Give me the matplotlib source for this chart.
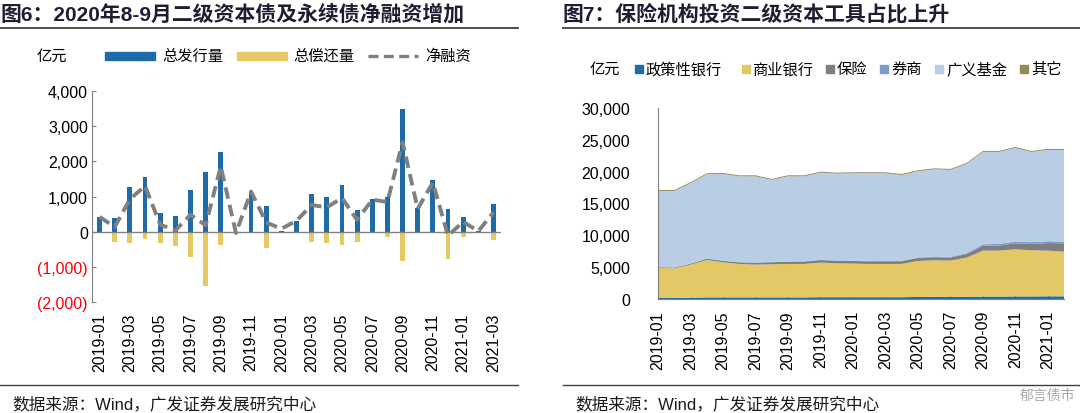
import matplotlib
matplotlib.use("Agg")
import matplotlib.pyplot as plt
import numpy as np
from matplotlib.lines import Line2D
from matplotlib.patches import Rectangle

plt.rcParams['font.family'] = ['Liberation Sans', 'Noto Sans CJK SC', 'DejaVu Sans']

# ---------------- data: left chart ----------------
months_left = ["2019-01", "2019-02", "2019-03", "2019-04", "2019-05", "2019-06", "2019-07",
               "2019-08", "2019-09", "2019-10", "2019-11", "2019-12", "2020-01", "2020-02",
               "2020-03", "2020-04", "2020-05", "2020-06", "2020-07", "2020-08", "2020-09",
               "2020-10", "2020-11", "2020-12", "2021-01", "2021-02", "2021-03"]
issuance = [430, 400, 1260, 1550, 520, 455, 1200, 1700, 2280, 0, 1140, 720, 30, 310,
            1065, 1000, 1340, 620, 940, 990, 3490, 685, 1470, 655, 420, 15, 790]
repayment = [0, -285, -335, -210, -315, -400, -715, -1540, -370, -40, 0, -465, 0, 0,
             -305, -325, -380, -295, -30, -145, -835, -30, -50, -780, -145, 0, -240]
net_financing = [420, 130, 925, 1300, 200, 30, 480, 180, 1860, -40, 1140, 260, 80, 310,
                 760, 690, 960, 330, 910, 845, 2550, 650, 1400, -120, 280, 10, 550]
left_yticks = [-2000, -1000, 0, 1000, 2000, 3000, 4000]

# ---------------- data: right chart ----------------
months_right = ["2019-01", "2019-02", "2019-03", "2019-04", "2019-05", "2019-06", "2019-07",
                "2019-08", "2019-09", "2019-10", "2019-11", "2019-12", "2020-01", "2020-02",
                "2020-03", "2020-04", "2020-05", "2020-06", "2020-07", "2020-08", "2020-09",
                "2020-10", "2020-11", "2020-12", "2021-01", "2021-02"]
policy_bank = [150, 150, 200, 250, 250, 250, 250, 250, 250, 250, 280, 280, 280, 280, 280, 280,
               320, 350, 350, 350, 380, 380, 400, 400, 420, 420]
commercial_bank = [4720, 4670, 5190, 5880, 5510, 5250, 5140, 5200, 5250, 5250, 5430, 5320, 5270,
                   5220, 5220, 5220, 5650, 5720, 5670, 6140, 7210, 7210, 7400, 7240, 7170, 7020]
insurance = [100, 120, 150, 200, 220, 250, 300, 320, 350, 370, 400, 400, 420, 420, 430, 440,
             470, 500, 500, 560, 750, 800, 950, 1000, 1200, 1300]
securities = [30, 30, 30, 40, 40, 40, 50, 50, 50, 50, 60, 60, 60, 60, 60, 60, 80, 100, 100, 150,
              250, 260, 280, 280, 280, 280]
broad_funds = [11970, 12000, 12610, 13220, 13620, 13480, 13530, 12880, 13370, 13350, 13680, 13630,
               13720, 13770, 13760, 13480, 13540, 13700, 13650, 14010, 14510, 14450, 14690, 14180,
               14340, 14390]
others = [150] * 26
right_yticks = [0, 5000, 10000, 15000, 20000, 25000, 30000]

series_names = ["政策性银行", "商业银行", "保险", "券商", "广义基金", "其它"]
series_colors = ["#1F6BA8", "#E4C866", "#7F7F7F", "#7B9DCC", "#B9CDE4", "#948A54"]

BLUE = "#1F6BA8"
YELLOW = "#E6C965"
GRAY = "#808080"
TITLE_C = "#1E1E32"

fig = plt.figure(figsize=(10.8, 4.14), dpi=100)

# ---------------- left chart ----------------
axL = fig.add_axes([0.0852, 0.2688, 0.3787, 0.5082])
x = np.arange(len(months_left))
axL.bar(x, issuance, width=0.32, color=BLUE, zorder=2)
axL.bar(x, repayment, width=0.32, color=YELLOW, zorder=2)
axL.plot(x, net_financing, color=GRAY, lw=2.8, linestyle=(0, (3.0, 1.6)), zorder=3)
axL.axhline(0, color=GRAY, lw=1.0, zorder=4)
axL.set_xlim(-0.5, len(months_left) - 0.5)
axL.set_ylim(-2000, 4000)
axL.set_yticks(left_yticks)

def fmt(v):
    if v < 0:
        return "({:,})".format(-v)
    return "{:,}".format(v)

axL.set_yticklabels([fmt(v) for v in left_yticks], fontsize=11.5)
for lab, v in zip(axL.get_yticklabels(), left_yticks):
    if v < 0:
        lab.set_color("#FF0000")
axL.set_xticks(x[::2])
axL.set_xticklabels(months_left[::2], rotation=90, fontsize=11.5)
axL.tick_params(axis='x', length=0, pad=8)
axL.tick_params(axis='y', direction='in', length=3, color=GRAY, pad=3)
for s in ["top", "right", "bottom"]:
    axL.spines[s].set_visible(False)
axL.spines["left"].set_color(GRAY)

# left legend
fig.text(37 / 1080, 1 - 57 / 414, "亿元", fontsize=11, va='center', ha='left')
fig.patches.append(Rectangle((105 / 1080, 1 - 61 / 414), 50 / 1080, 8 / 414, color=BLUE,
                             transform=fig.transFigure, figure=fig))
fig.text(162 / 1080, 1 - 57 / 414, "总发行量", fontsize=11, va='center', ha='left')
fig.patches.append(Rectangle((237 / 1080, 1 - 61 / 414), 50 / 1080, 8 / 414, color=YELLOW,
                             transform=fig.transFigure, figure=fig))
fig.text(293 / 1080, 1 - 57 / 414, "总偿还量", fontsize=11, va='center', ha='left')
fig.lines.append(Line2D([368 / 1080, 418 / 1080], [1 - 57 / 414, 1 - 57 / 414], color=GRAY,
                        lw=2.4, linestyle=(0, (3.0, 1.6)), transform=fig.transFigure))
fig.text(425 / 1080, 1 - 57 / 414, "净融资", fontsize=11, va='center', ha='left')

# ---------------- right chart ----------------
axR = fig.add_axes([0.6093, 0.2754, 0.3759, 0.4614])
xr = np.arange(len(months_right))
axR.stackplot(xr, policy_bank, commercial_bank, insurance, securities, broad_funds, others,
              colors=series_colors, linewidth=0, zorder=2)
axR.set_xlim(0, len(months_right) - 1)
axR.set_ylim(0, 30000)
axR.set_yticks(right_yticks)
axR.set_yticklabels(["{:,}".format(v) for v in right_yticks], fontsize=11.5)
axR.set_xticks(xr[::2])
axR.set_xticklabels(months_right[::2], rotation=90, fontsize=11.5)
axR.tick_params(axis='x', direction='in', length=3, color="#404040", pad=8)
axR.tick_params(axis='y', length=0, pad=20)
for s in ["top", "right"]:
    axR.spines[s].set_visible(False)
axR.spines["left"].set_color(GRAY)
axR.spines["bottom"].set_color(GRAY)

# right legend
ly = 1 - 70 / 414
fig.text(590 / 1080, ly, "亿元", fontsize=11, va='center', ha='left')
leg_sq_x = [635, 742, 826, 880, 935, 1020]
leg_tx_x = [646, 752, 837, 891, 946, 1031]
for name, col, sx, tx in zip(series_names, series_colors, leg_sq_x, leg_tx_x):
    fig.patches.append(Rectangle((sx / 1080, ly - 4 / 414), 8 / 1080, 8 / 414, color=col,
                                 transform=fig.transFigure, figure=fig))
    fig.text(tx / 1080, ly, name, fontsize=11, va='center', ha='left')

# ---------------- titles, rules, sources ----------------
fig.text(0.0, 1 - 14 / 414, "图6：2020年8-9月二级资本债及永续债净融资增加", fontsize=15,
         fontweight='bold', color=TITLE_C, va='center', ha='left')
fig.text(563 / 1080, 1 - 14 / 414, "图7：保险机构投资二级资本工具占比上升", fontsize=15,
         fontweight='bold', color=TITLE_C, va='center', ha='left')
for (x0, x1) in [(0, 518), (563, 1080)]:
    fig.lines.append(Line2D([x0 / 1080, x1 / 1080], [1 - 29 / 414, 1 - 29 / 414], color="#404040",
                            lw=1.3, transform=fig.transFigure))
    fig.lines.append(Line2D([x0 / 1080, x1 / 1080], [1 - 386 / 414, 1 - 386 / 414], color="#404040",
                            lw=1.0, transform=fig.transFigure))
fig.text(12 / 1080, 1 - 404 / 414, "数据来源：Wind，广发证券发展研究中心", fontsize=12,
         va='center', ha='left', color="#1a1a1a")
fig.text(575 / 1080, 1 - 404 / 414, "数据来源：Wind，广发证券发展研究中心", fontsize=12,
         va='center', ha='left', color="#1a1a1a")

# watermark (kept clear of the tick labels)
fig.text(1075 / 1080, 1 - 396 / 414, "郁言债市", fontsize=10, color="#A8A8A8",
         va='center', ha='right', zorder=10)

fig.savefig("out.png", dpi=100)
